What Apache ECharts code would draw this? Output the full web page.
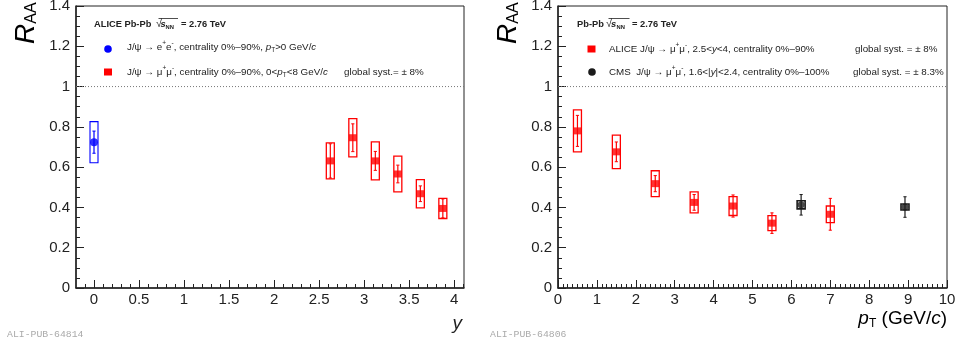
<!DOCTYPE html>
<html>
<head>
<meta charset="utf-8">
<script src="https://cdn.jsdelivr.net/npm/echarts@6/dist/echarts.min.js"></script>
<style>
html, body { margin: 0; padding: 0; background: #fff; }
#chart { width: 960px; height: 347px; }
</style>
</head>
<body>
<div id="chart"></div>
<script>
// J/psi nuclear modification factor R_AA in Pb-Pb collisions at 2.76 TeV

// Left panel: R_AA versus rapidity
const eeRapidity = [0];
const eeRaa = [0.724];
const eeStat = [0.055];
const eeSyst = [0.102];

const mumuRapidity = [2.625, 2.875, 3.125, 3.375, 3.625, 3.875];
const mumuRaa = [0.631, 0.746, 0.631, 0.566, 0.468, 0.395];
const mumuStat = [0.085, 0.069, 0.047, 0.044, 0.039, 0.047];
const mumuSyst = [0.089, 0.095, 0.094, 0.089, 0.07, 0.05];

// Right panel: R_AA versus transverse momentum
const alicePt = [0.5, 1.5, 2.5, 3.5, 4.5, 5.5, 7.0];
const aliceRaa = [0.78, 0.676, 0.518, 0.425, 0.407, 0.322, 0.366];
const aliceStat = [0.077, 0.049, 0.04, 0.039, 0.055, 0.051, 0.079];
const aliceSyst = [0.104, 0.083, 0.064, 0.052, 0.047, 0.037, 0.041];

const cmsPt = [6.25, 8.92];
const cmsRaa = [0.413, 0.402];
const cmsStat = [0.051, 0.051];
const cmsSyst = [0.02, 0.015];

// Tick positions
const rapidityMajorTicks = [0, 0.5, 1, 1.5, 2, 2.5, 3, 3.5, 4];
const rapidityMin = -0.2;
const rapidityMax = 4.11;
const rapidityMinorTicks = [];
for (let i = -1; i <= 41; i++) {
  if (i % 5 !== 0) rapidityMinorTicks.push(i / 10);
}
const ptMin = 0, ptMax = 10, ptStep = 1;
const raaMin = 0, raaMax = 1.4, raaStep = 0.2;

const FONT = 'Liberation Sans';
const INK = '#222';

function rows(xs, ys, st, sy) {
  return xs.map((x, i) => [x, ys[i], st[i], sy[i]]);
}
function points(xs, ys) {
  return xs.map((x, i) => [x, ys[i]]);
}

// Systematic box + statistical error bar drawn through the axis scales
function errorRenderer(color, halfWidth, boxWidth) {
  return function (params, api) {
    const x = api.value(0), y = api.value(1), st = api.value(2), sy = api.value(3);
    const c = api.coord([x, y]);
    const sTop = api.coord([x, y + st]), sBot = api.coord([x, y - st]);
    const bTop = api.coord([x, y + sy]), bBot = api.coord([x, y - sy]);
    const cap = 1.6;
    return {
      type: 'group',
      children: [
        { type: 'rect', shape: { x: c[0] - halfWidth, y: bTop[1], width: halfWidth * 2, height: bBot[1] - bTop[1] },
          style: { fill: 'none', stroke: color, lineWidth: boxWidth } },
        { type: 'line', shape: { x1: c[0], y1: sTop[1], x2: c[0], y2: sBot[1] },
          style: { stroke: color, lineWidth: 1.2 } },
        { type: 'line', shape: { x1: c[0] - cap, y1: sTop[1], x2: c[0] + cap, y2: sTop[1] },
          style: { stroke: color, lineWidth: 1 } },
        { type: 'line', shape: { x1: c[0] - cap, y1: sBot[1], x2: c[0] + cap, y2: sBot[1] },
          style: { stroke: color, lineWidth: 1 } }
      ]
    };
  };
}

function raaAxis(gridIndex) {
  return {
    type: 'value', gridIndex: gridIndex, position: 'left', min: raaMin, max: raaMax, interval: raaStep,
    axisLine: { show: true, onZero: false, lineStyle: { color: INK, width: 1.5 } },
    axisTick: { show: true, inside: true, length: 8, lineStyle: { color: INK, width: 1 } },
    minorTick: { show: true, splitNumber: 4, length: 4, lineStyle: { color: INK, width: 1 } },
    axisLabel: { fontSize: 15, color: INK, fontFamily: FONT, margin: 6 },
    splitLine: { show: false }, minorSplitLine: { show: false }
  };
}

const labelRich = {
  n: { fontSize: 9.8, fontFamily: FONT, color: INK, lineHeight: 14 },
  i: { fontSize: 9.8, fontFamily: FONT, fontStyle: 'italic', color: INK, lineHeight: 14 },
  sup: { fontSize: 6.5, fontFamily: FONT, color: INK, lineHeight: 9, verticalAlign: 'top' },
  sub: { fontSize: 6.5, fontFamily: FONT, color: INK, lineHeight: 6, verticalAlign: 'bottom' }
};

function legendText(x, y, text) {
  return { type: 'text', x: x, y: y, silent: true,
    style: { text: text, rich: labelRich, align: 'left', verticalAlign: 'middle',
      fontSize: 9.8, fontFamily: FONT, fill: INK } };
}

function boldText(x, y, text, size, italic) {
  return { type: 'text', x: x, y: y, silent: true,
    style: { text: text, align: 'left', verticalAlign: 'middle', fontSize: size, fontWeight: 'bold',
      fontStyle: italic ? 'italic' : 'normal', fontFamily: FONT, fill: INK } };
}

// "<system>  sqrt(s_NN) = 2.76 TeV" header
function header(x0, label, sqrtX, sX, nnX, eqX, barX0, barX1) {
  return [
    boldText(x0, 24, label, 9.3),
    { type: 'text', x: sqrtX, y: 24, silent: true,
      style: { text: '√', align: 'left', verticalAlign: 'middle', fontSize: 11, fontFamily: FONT, fill: INK } },
    boldText(sX, 24, 's', 9.3, true),
    boldText(nnX, 27, 'NN', 5.8),
    { type: 'line', silent: true, shape: { x1: barX0, y1: 18.5, x2: barX1, y2: 18.5 },
      style: { stroke: INK, lineWidth: 0.8 } },
    boldText(eqX, 24, '= 2.76 TeV', 9.3)
  ];
}

const chart = echarts.init(document.getElementById('chart'), null, { renderer: 'canvas' });

const option = {
  animation: false,
  backgroundColor: '#fff',
  grid: [
    { left: 76, top: 6, width: 388, height: 282, show: true, borderColor: INK, borderWidth: 1,
      containLabel: false, outerBoundsMode: 'none' },
    { left: 558, top: 6, width: 389, height: 282, show: true, borderColor: INK, borderWidth: 1,
      containLabel: false, outerBoundsMode: 'none' }
  ],
  xAxis: [
    { type: 'value', gridIndex: 0, position: 'bottom', min: rapidityMin, max: rapidityMax,
      axisLine: { show: true, onZero: false, lineStyle: { color: INK, width: 1.5 } },
      axisTick: { show: true, inside: true, length: 8, customValues: rapidityMajorTicks, lineStyle: { color: INK } },
      axisLabel: { customValues: rapidityMajorTicks, fontSize: 15, color: INK, fontFamily: FONT, margin: 4 },
      splitLine: { show: false } },
    { type: 'value', gridIndex: 0, position: 'bottom', min: rapidityMin, max: rapidityMax,
      axisLine: { show: false, onZero: false },
      axisTick: { show: true, inside: true, length: 4, customValues: rapidityMinorTicks, lineStyle: { color: INK } },
      axisLabel: { show: false }, splitLine: { show: false } },
    { type: 'value', gridIndex: 1, position: 'bottom', min: ptMin, max: ptMax, interval: ptStep,
      axisLine: { show: true, onZero: false, lineStyle: { color: INK, width: 1.5 } },
      axisTick: { show: true, inside: true, length: 8, lineStyle: { color: INK } },
      minorTick: { show: true, splitNumber: 8, length: 4, lineStyle: { color: INK } },
      axisLabel: { fontSize: 15, color: INK, fontFamily: FONT, margin: 4 },
      splitLine: { show: false }, minorSplitLine: { show: false } }
  ],
  yAxis: [raaAxis(0), raaAxis(1)],
  series: [
    // reference line at R_AA = 1
    { type: 'line', xAxisIndex: 0, yAxisIndex: 0, symbol: 'none', silent: true,
      data: [[rapidityMin, 1], [rapidityMax, 1]],
      lineStyle: { color: '#777', width: 1, type: [1, 2] } },
    { type: 'line', xAxisIndex: 2, yAxisIndex: 1, symbol: 'none', silent: true,
      data: [[ptMin, 1], [ptMax, 1]],
      lineStyle: { color: '#777', width: 1, type: [1, 2] } },

    // uncertainties
    { type: 'custom', xAxisIndex: 0, yAxisIndex: 0, renderItem: errorRenderer('#0000ff', 4, 1.1),
      encode: { x: 0, y: 1 }, data: rows(eeRapidity, eeRaa, eeStat, eeSyst), z: 3 },
    { type: 'custom', xAxisIndex: 0, yAxisIndex: 0, renderItem: errorRenderer('#ff0000', 4, 1.3),
      encode: { x: 0, y: 1 }, data: rows(mumuRapidity, mumuRaa, mumuStat, mumuSyst), z: 3 },
    { type: 'custom', xAxisIndex: 2, yAxisIndex: 1, renderItem: errorRenderer('#ff0000', 4, 1.3),
      encode: { x: 0, y: 1 }, data: rows(alicePt, aliceRaa, aliceStat, aliceSyst), z: 3 },
    { type: 'custom', xAxisIndex: 2, yAxisIndex: 1, renderItem: errorRenderer('#1a1a1a', 4, 1.6),
      encode: { x: 0, y: 1 }, data: rows(cmsPt, cmsRaa, cmsStat, cmsSyst), z: 3 },

    // central values
    { type: 'scatter', xAxisIndex: 0, yAxisIndex: 0, symbol: 'circle', symbolSize: 8,
      itemStyle: { color: '#0000ff' }, data: points(eeRapidity, eeRaa), z: 4 },
    { type: 'scatter', xAxisIndex: 0, yAxisIndex: 0, symbol: 'rect', symbolSize: [8, 7],
      itemStyle: { color: '#ff0000' }, data: points(mumuRapidity, mumuRaa), z: 4 },
    { type: 'scatter', xAxisIndex: 2, yAxisIndex: 1, symbol: 'rect', symbolSize: [8, 7],
      itemStyle: { color: '#ff0000' }, data: points(alicePt, aliceRaa), z: 4 },
    { type: 'scatter', xAxisIndex: 2, yAxisIndex: 1, symbol: 'circle', symbolSize: 7,
      itemStyle: { color: '#1a1a1a' }, data: points(cmsPt, cmsRaa), z: 4 }
  ],
  graphic: [].concat(
    // vertical axis titles
    [26, 508].map(x => ({ type: 'text', x: x, y: 44, rotation: Math.PI / 2, silent: true,
      style: { text: '{r|R}{s|AA}', align: 'left', verticalAlign: 'middle',
        rich: {
          r: { fontSize: 28, fontStyle: 'italic', fontFamily: FONT, color: INK, lineHeight: 28 },
          s: { fontSize: 16, fontFamily: FONT, color: INK, lineHeight: 12, verticalAlign: 'bottom' }
        } } })),
    // horizontal axis titles
    [{ type: 'text', x: 462, y: 324, silent: true,
       style: { text: 'y', align: 'right', verticalAlign: 'middle', fontSize: 19, fontStyle: 'italic',
         fontFamily: FONT, fill: INK } },
     { type: 'text', x: 947, y: 319, silent: true,
       style: { text: '{i|p}{s|T}{n| (GeV/}{i|c}{n|)}', align: 'right', verticalAlign: 'middle',
         rich: {
           n: { fontSize: 19, fontFamily: FONT, color: INK, lineHeight: 22 },
           i: { fontSize: 19, fontStyle: 'italic', fontFamily: FONT, color: INK, lineHeight: 22 },
           s: { fontSize: 12, fontFamily: FONT, color: INK, lineHeight: 10, verticalAlign: 'bottom' }
         } } }],
    // publication ids
    [{ type: 'text', x: 7, y: 334, silent: true,
       style: { text: 'ALI-PUB-64814', fontSize: 9.8, fontFamily: 'Liberation Mono', fill: '#aaa',
         align: 'left', verticalAlign: 'middle' } },
     { type: 'text', x: 490, y: 334, silent: true,
       style: { text: 'ALI-PUB-64806', fontSize: 9.8, fontFamily: 'Liberation Mono', fill: '#aaa',
         align: 'left', verticalAlign: 'middle' } }],
    // left panel legend
    header(94, 'ALICE Pb-Pb', 156, 160.5, 165.5, 181, 158.5, 178),
    [{ type: 'circle', silent: true, shape: { cx: 108, cy: 49, r: 3.8 }, style: { fill: '#0000ff' } },
     legendText(127, 47, '{n|J/ψ → e}{sup|+}{n|e}{sup|-}{n|, centrality 0%–90%, }{i|p}{sub|T}{n|>0 GeV/}{i|c}'),
     { type: 'rect', silent: true, shape: { x: 104, y: 68.5, width: 8, height: 7 }, style: { fill: '#ff0000' } },
     legendText(127, 72, '{n|J/ψ → μ}{sup|+}{n|μ}{sup|-}{n|, centrality 0%–90%, 0<}{i|p}{sub|T}{n|<8 GeV/}{i|c}'),
     legendText(344, 72, '{n|global syst.= ± 8%}')],
    // right panel legend
    header(577, 'Pb-Pb', 606, 611, 616.5, 632, 608.5, 629.5),
    [{ type: 'rect', silent: true, shape: { x: 587.5, y: 45.5, width: 8, height: 7 }, style: { fill: '#ff0000' } },
     legendText(609, 49, '{n|ALICE J/ψ → μ}{sup|+}{n|μ}{sup|-}{n|, 2.5<}{i|y}{n|<4, centrality 0%–90%}'),
     legendText(855, 49, '{n|global syst. = ± 8%}'),
     { type: 'circle', silent: true, shape: { cx: 592, cy: 72, r: 3.8 }, style: { fill: '#1a1a1a' } },
     legendText(609, 72, '{n|CMS  J/ψ → μ}{sup|+}{n|μ}{sup|-}{n|, 1.6<|}{i|y}{n||<2.4, centrality 0%–100%}'),
     legendText(853, 72, '{n|global syst. = ± 8.3%}')]
  )
};

chart.setOption(option);
</script>
</body>
</html>
